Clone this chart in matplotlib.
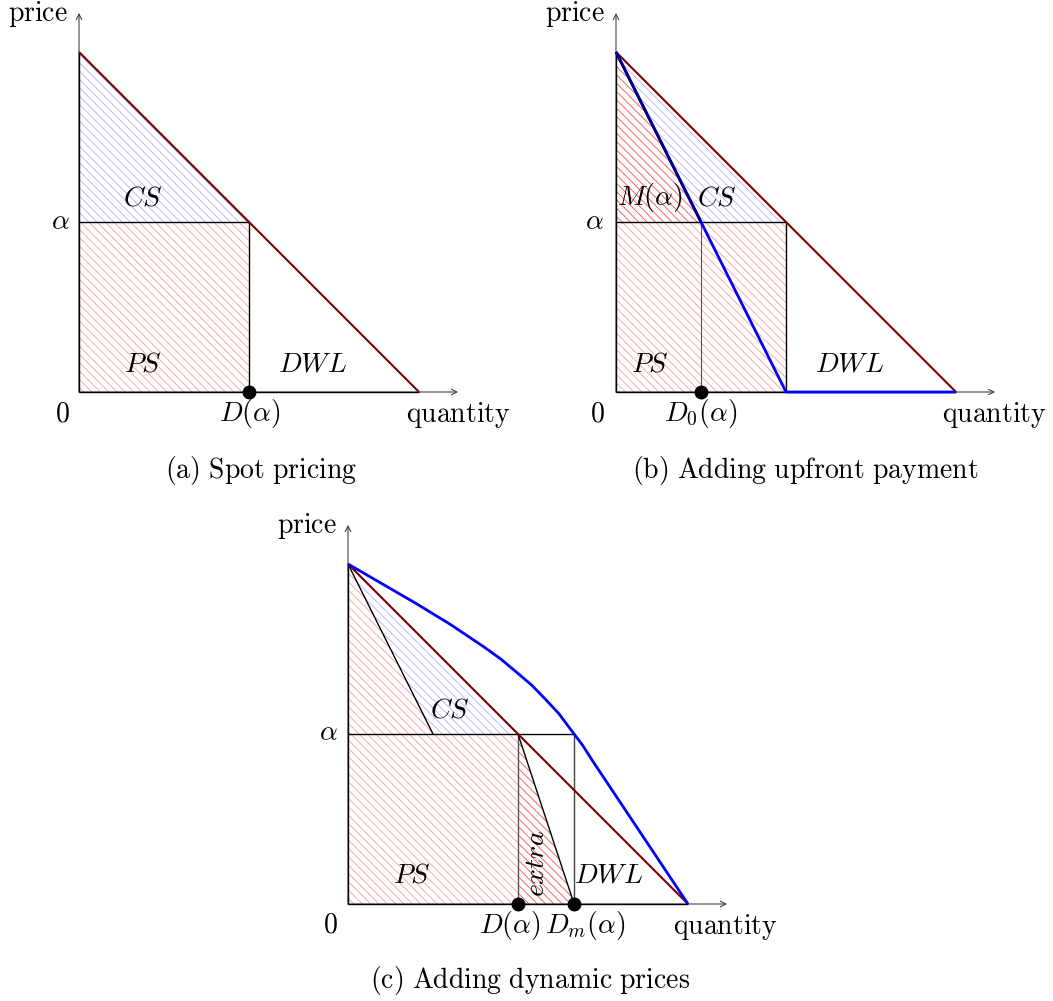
import matplotlib
matplotlib.use("Agg")
import matplotlib.pyplot as plt

plt.rcParams['mathtext.fontset'] = 'cm'
plt.rcParams['hatch.linewidth'] = 0.6

# demand curve (linear), price level and quantities
demand_q = [0.0, 1.0]
demand_p = [1.0, 0.0]
alpha = 0.5
d_alpha = 0.5       # D(alpha), spot demand
d0_alpha = 0.25     # D_0(alpha), demand with upfront payment
dm_alpha = 0.665    # D_m(alpha), demand with dynamic prices

# upfront-payment demand (b): kinked line down to the axis
upfront_q = [0.0, 0.5, 1.0]
upfront_p = [1.0, 0.0, 0.0]

# dynamic-price demand (c)
dyn_q = [0.0, 0.1, 0.2, 0.3, 0.4, 0.45, 0.5, 0.54, 0.58, 0.62, 0.665,
         0.69, 0.72, 0.8, 0.9, 1.0]
dyn_p = [1.0, 0.942, 0.884, 0.823, 0.756, 0.720, 0.678, 0.644, 0.603, 0.560, 0.5,
         0.467, 0.42, 0.30, 0.15, 0.0]

captions = ["(a) Spot pricing", "(b) Adding upfront payment", "(c) Adding dynamic prices"]

W, H = 1053, 1001
UNIT = 340
FS = 20
RED = '#ff9c9c'
DARKRED = '#f05050'
BLUE = '#b0b0ff'
DEMAND = '#780000'
HATCH = '\\\\\\\\'


def mrm(s):
    return r'$\mathrm{' + s.replace(' ', r'\ ') + '}$'


def make_axes(fig, ox, oy):
    ax = fig.add_axes([ox / W, (H - oy) / H, UNIT / W, UNIT / H])
    ax.set_xlim(0, 1)
    ax.set_ylim(0, 1)
    ax.axis('off')
    return ax


def hatch(ax, xs, ys, color):
    ax.fill(xs, ys, facecolor='none', edgecolor=color, hatch=HATCH,
            linewidth=0, zorder=1)


def line(ax, xs, ys, color='k', lw=1.0, z=3):
    ax.plot(xs, ys, color=color, lw=lw, zorder=z, clip_on=False,
            solid_capstyle='butt', solid_joinstyle='round')


def frame(ax, qlabel_x):
    # axes with arrow heads
    for tip in [(1.115, 0), (0, 1.115)]:
        ax.annotate('', xy=tip, xytext=(0, 0), annotation_clip=False,
                    arrowprops=dict(arrowstyle='->', lw=0.8, color='#444444',
                                    shrinkA=0, shrinkB=0), zorder=2)
    line(ax, [0, 0], [0, 1], 'k', 1.0)
    line(ax, [0, 1], [0, 0], 'k', 1.0)
    ax.text(-0.032, 1.091, mrm('price'), ha='right', va='baseline', fontsize=FS)
    ax.text(qlabel_x, -0.088, mrm('quantity'), ha='left', va='baseline', fontsize=FS)


def label(ax, x, y, s, **kw):
    ax.text(x, y, s, ha='center', va='baseline', fontsize=FS, **kw)


def dot(ax, x):
    ax.plot([x], [0], 'o', ms=9, color='k', zorder=10, clip_on=False)


fig = plt.figure(figsize=(W / 100, H / 100), dpi=100)

# (a) spot pricing
ax = make_axes(fig, 79, 392)
hatch(ax, [0, 0, d_alpha], [1, alpha, alpha], BLUE)
hatch(ax, [0, d_alpha, d_alpha, 0], [0, 0, alpha, alpha], RED)
frame(ax, 0.962)
line(ax, [0, d_alpha], [alpha, alpha])
line(ax, [d_alpha, d_alpha], [0, alpha])
line(ax, demand_q, demand_p, DEMAND, 1.5, 4)
dot(ax, d_alpha)
label(ax, -0.05, -0.088, mrm('0'))
label(ax, -0.056, 0.479, r'$\alpha$')
label(ax, 0.503, -0.085, r'$D(\alpha)$')
label(ax, 0.188, 0.55, r'$CS$')
label(ax, 0.188, 0.059, r'$PS$')
label(ax, 0.688, 0.059, r'$DWL$')
label(ax, 0.535, -0.253, mrm(captions[0]))

# (b) adding upfront payment
ax = make_axes(fig, 616, 392)
hatch(ax, [0, 0, d0_alpha], [1, alpha, alpha], DARKRED)
hatch(ax, [0, d0_alpha, d_alpha], [1, alpha, alpha], BLUE)
hatch(ax, [0, d_alpha, d_alpha, 0], [0, 0, alpha, alpha], RED)
frame(ax, 0.959)
line(ax, [0, d_alpha], [alpha, alpha])
line(ax, [d_alpha, d_alpha], [0, alpha])
line(ax, [d0_alpha, d0_alpha], [0, alpha], '#555555', 0.8)
line(ax, demand_q, demand_p, DEMAND, 1.5, 4)
line(ax, upfront_q, upfront_p, '#0000ff', 2.0, 5)
line(ax, [0, d0_alpha], [1, alpha], '#00008a', 2.0, 6)
dot(ax, d0_alpha)
label(ax, -0.056, -0.088, mrm('0'))
label(ax, -0.065, 0.479, r'$\alpha$')
label(ax, 0.25, -0.085, r'$D_0(\alpha)$')
label(ax, 0.1, 0.55, r'$M(\alpha)$')
label(ax, 0.297, 0.55, r'$CS$')
label(ax, 0.1, 0.059, r'$PS$')
label(ax, 0.688, 0.059, r'$DWL$')
label(ax, 0.556, -0.253, mrm(captions[1]))

# (c) adding dynamic prices
ax = make_axes(fig, 348, 904)
hatch(ax, [0, 0, d0_alpha], [1, alpha, alpha], RED)
hatch(ax, [0, d0_alpha, d_alpha], [1, alpha, alpha], BLUE)
hatch(ax, [0, d_alpha, d_alpha, 0], [0, 0, alpha, alpha], RED)
hatch(ax, [d_alpha, d_alpha, dm_alpha], [alpha, 0, 0], DARKRED)
frame(ax, 0.956)
line(ax, [0, d0_alpha], [1, alpha], 'k', 1.0)
line(ax, [0, dm_alpha], [alpha, alpha])
line(ax, [d_alpha, d_alpha], [0, alpha], '#555555', 1.0)
line(ax, [dm_alpha, dm_alpha], [0, alpha], '#444444', 1.0)
line(ax, [d_alpha, dm_alpha], [alpha, 0], 'k', 1.0)
line(ax, demand_q, demand_p, DEMAND, 1.5, 4)
line(ax, dyn_q, dyn_p, '#0000ff', 2.0, 5)
dot(ax, d_alpha)
dot(ax, dm_alpha)
label(ax, -0.053, -0.085, mrm('0'))
label(ax, -0.059, 0.482, r'$\alpha$')
label(ax, 0.3, 0.55, r'$CS$')
label(ax, 0.188, 0.062, r'$PS$')
label(ax, 0.765, 0.062, r'$DWL$')
ax.text(0.553, 0.12, r'$extra$', ha='center', va='center', rotation=90, fontsize=FS)
label(ax, 0.476, -0.085, r'$D(\alpha)$')
label(ax, 0.697, -0.085, r'$D_m(\alpha)$')
label(ax, 0.535, -0.247, mrm(captions[2]))

fig.savefig('out.png', dpi=100)
